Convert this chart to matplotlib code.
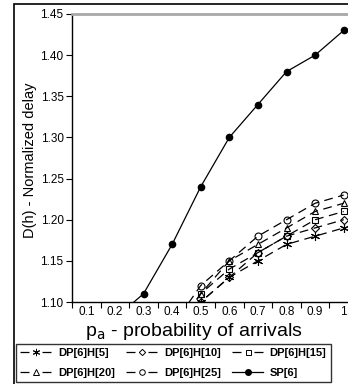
import numpy as np
import matplotlib
matplotlib.use("Agg")
import matplotlib.pyplot as plt
from matplotlib.patches import Rectangle
from matplotlib.lines import Line2D

plt.rcParams['font.family'] = ['Liberation Sans', 'DejaVu Sans']

categories = ["0.1", "0.2", "0.3", "0.4", "0.5", "0.6", "0.7", "0.8", "0.9", "1"]
nan = np.nan
dp_h5 = [nan, nan, nan, 1.05, 1.10, 1.13, 1.15, 1.17, 1.18, 1.19]
dp_h10 = [nan, nan, nan, 1.05, 1.10, 1.13, 1.16, 1.18, 1.19, 1.20]
dp_h15 = [nan, nan, nan, 1.06, 1.11, 1.14, 1.16, 1.18, 1.20, 1.21]
dp_h20 = [nan, nan, nan, 1.06, 1.11, 1.15, 1.17, 1.19, 1.21, 1.22]
dp_h25 = [nan, nan, nan, 1.07, 1.12, 1.15, 1.18, 1.20, 1.22, 1.23]
sp6 = [nan, 1.08, 1.11, 1.17, 1.24, 1.30, 1.34, 1.38, 1.40, 1.43]
yticks = [1.10, 1.15, 1.20, 1.25, 1.30, 1.35, 1.40, 1.45]

series = [
    ("DP[6]H[5]", dp_h5, (6, 2, 0)),
    ("DP[6]H[10]", dp_h10, "D"),
    ("DP[6]H[15]", dp_h15, "s"),
    ("DP[6]H[20]", dp_h20, "^"),
    ("DP[6]H[25]", dp_h25, "o"),
]
msize = {(6, 2, 0): 6.5, "D": 4.0, "s": 4.5, "^": 5.0, "o": 5.0}

fig = plt.figure(figsize=(3.48, 3.84), dpi=100)
ax = fig.add_axes([72 / 348, 82 / 384, 286 / 348, 288 / 384])

x = np.arange(1, len(categories) + 1)
leg_handles = {}
for name, vals, mk in series:
    ax.plot(x, vals, color="black", lw=0.9, dashes=(7, 4.5),
            marker=mk, markersize=msize[mk], markerfacecolor="none",
            markeredgecolor="black", markeredgewidth=0.8)
    leg_handles[name] = Line2D([], [], color="black", lw=0.9,
                               linestyle=(0, (7.2, 10.4)),
                               marker=mk, markersize=msize[mk] * 0.8,
                               markerfacecolor="none", markeredgecolor="black",
                               markeredgewidth=0.7)
ax.plot(x, sp6, color="black", lw=0.9, marker="o", markersize=4.5,
        markerfacecolor="black", markeredgecolor="black")
leg_handles["SP[6]"] = Line2D([], [], color="black", lw=0.9, marker="o",
                              markersize=4, markerfacecolor="black",
                              markeredgecolor="black")

ax.set_xlim(0.5, 10.5)
ax.set_ylim(1.10, 1.45)
ax.set_xticks(x)
ax.set_xticklabels(categories, fontsize=8.5)
ax.set_xticks(np.arange(0.5, 10.6, 1.0), minor=True)
ax.tick_params(axis="x", which="major", length=0, pad=3)
ax.tick_params(axis="x", which="minor", length=4, width=0.8, direction="out")
ax.set_yticks(yticks)
ax.set_yticklabels([f"{v:.2f}" for v in yticks], fontsize=8.5)
ax.tick_params(axis="y", length=4, width=0.8, direction="out", pad=2)

ax.spines["top"].set_color("#a8a8a8")
ax.spines["top"].set_linewidth(2)
ax.spines["right"].set_visible(False)
ax.spines["left"].set_linewidth(1)
ax.spines["bottom"].set_linewidth(1)

fig.text(194 / 348, 1 - 336 / 384, "p$_{\\mathrm{a}}$ - probability of arrivals",
         fontsize=14, ha="center", va="baseline")
fig.text(30 / 348, 1 - 160 / 384, "D(h) - Normalized delay", fontsize=10.5,
         rotation=90, ha="center", va="center")

order = ["DP[6]H[5]", "DP[6]H[20]", "DP[6]H[10]", "DP[6]H[25]", "DP[6]H[15]", "SP[6]"]
leg = fig.legend([leg_handles[k] for k in order], order, ncol=3, loc="lower left",
                 bbox_to_anchor=(16 / 348, 2 / 384), bbox_transform=fig.transFigure,
                 prop={"weight": "bold", "size": 8}, frameon=True, fancybox=False,
                 edgecolor="black", handlelength=2.8, handletextpad=0.6,
                 columnspacing=1.0, borderpad=0.4, labelspacing=0.85,
                 borderaxespad=0)
leg.get_frame().set_linewidth(1)

fig.add_artist(Rectangle((13.5 / 348, -0.05), 1.0, 380 / 384 + 0.05,
                         transform=fig.transFigure, fill=False,
                         lw=1.2, ec="black"))

fig.savefig("out.png", dpi=100)
